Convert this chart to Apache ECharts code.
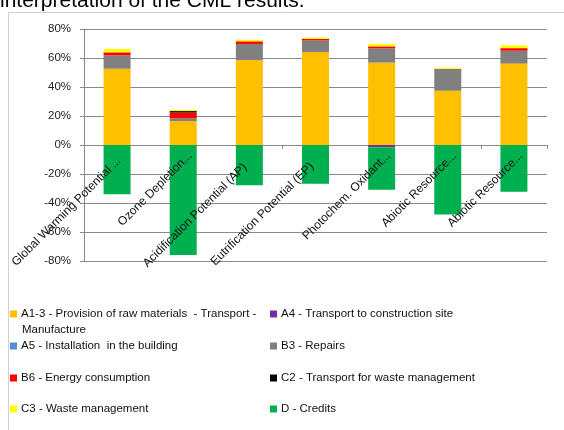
<!DOCTYPE html>
<html>
<head>
<meta charset="utf-8">
<script src="https://cdn.jsdelivr.net/npm/echarts@6/dist/echarts.min.js"></script>
<style>html,body{margin:0;padding:0;background:#fff;}#c{width:564px;height:430px;}</style>
</head>
<body>
<div id="c"></div>
<script>
const categories = ["Global Warming Potential ...","Ozone Depletion...","Acidification Potential (AP)","Eutrification Potential (EP)","Photochem. Oxidant...","Abiotic Resource...","Abiotic Resource..."];
const seriesNames = [
  "A1-3 - Provision of raw materials  - Transport - Manufacture",
  "A4 - Transport to construction site",
  "A5 - Installation  in the building",
  "B3 - Repairs",
  "B6 - Energy consumption",
  "C2 - Transport for waste management",
  "C3 - Waste management",
  "D - Credits"
];
const a13 = [52.6, 16.5, 58.6, 64.1, 56.8, 37.4, 56.3];
const a4  = [0, 0, 0.5, 0.5, -1.5, 0, 0.2];
const a5  = [0, 0, 0, 0, 0, 0, 0];
const b3  = [9.2, 2.0, 10.6, 7.5, 9.8, 15.2, 8.5];
const b6  = [2.1, 3.9, 1.8, 1.0, 1.4, 0, 1.8];
const c2  = [0, 1.0, 0, 0, 0, 0, 0];
const c3  = [2.3, 0.9, 1.1, 0.9, 1.7, 0.7, 1.9];
const d   = [-34.0, -75.9, -27.8, -26.7, -29.3, -47.9, -32.2];
const yTicks = { min: -80, max: 80, interval: 20 };

const values = [a13, a4, a5, b3, b6, c2, c3, d];
const colors = ["#FFC000", "#7030A0", "#558ED5", "#808080", "#FF0000", "#000000", "#FFFF00", "#00B050"];
const labelShift = [7, 0, 16, 15, 0, 0, 0];
const legendPos = [
  [10, 308], [270, 308],
  [10, 340], [270, 340],
  [10, 372], [270, 372],
  [10, 403], [270, 403]
];
const font = "'Liberation Sans', Arial, sans-serif";

const chart = echarts.init(document.getElementById('c'), null, { renderer: 'canvas' });
const option = {
  animation: false,
  backgroundColor: '#fff',
  grid: [
    { left: 84, right: 17, top: 29, bottom: 169, containLabel: false },
    { left: 91, right: 10, top: 29, height: 119, containLabel: false }
  ],
  xAxis: [
    {
      type: 'category', gridIndex: 0, data: categories,
      axisLine: { show: false, onZero: true },
      axisTick: { show: true, length: 4, lineStyle: { color: '#888' } },
      axisLabel: { show: false }
    },
    {
      type: 'category', gridIndex: 1, position: 'bottom', z: 5,
      data: categories.map((c, i) => ({ value: c, textStyle: { padding: [0, labelShift[i], 0, 0] } })),
      axisLine: { show: false },
      axisTick: { show: false },
      axisLabel: { rotate: 45, fontSize: 12, fontFamily: font, color: '#111', margin: 6, interval: 0 }
    }
  ],
  yAxis: [
    {
      type: 'value', gridIndex: 0,
      min: yTicks.min, max: yTicks.max, interval: yTicks.interval,
      axisLine: { show: true, lineStyle: { color: '#888' } },
      axisTick: { show: true, length: 4, lineStyle: { color: '#888' } },
      splitLine: { show: true, lineStyle: { color: '#8a8a8a', width: 1 } },
      axisLabel: { formatter: '{value}%', fontSize: 11.5, fontFamily: font, color: '#222', margin: 13 }
    },
    { type: 'value', gridIndex: 1, min: 0, max: 80, show: false }
  ],
  legend: seriesNames.map((n, i) => ({
    data: [n],
    left: legendPos[i][0],
    top: legendPos[i][1],
    orient: 'horizontal',
    itemWidth: 7, itemHeight: 7, itemGap: 0,
    padding: 0,
    icon: 'rect',
    selectedMode: false,
    formatter: i === 0 ? 'A1-3 - Provision of raw materials  - Transport -' : '{name}',
    textStyle: { fontSize: 11.5, fontFamily: font, color: '#111', padding: [0, 0, 0, -1] }
  })),
  graphic: [
    { type: 'rect', shape: { x: 8.5, y: 12.5, width: 600, height: 500 }, style: { fill: 'none', stroke: '#d0d0d0', lineWidth: 1 }, z: -1 },
    { type: 'rect', shape: { x: 0, y: 0, width: 340, height: 12 }, style: { fill: '#fff' }, z: 0 },
    { type: 'text', left: 0, top: -9, style: { text: 'interpretation of the CML results.', fontSize: 21, fontFamily: font, fill: '#000' }, z: 1 },
    { type: 'text', left: 22, top: 324, style: { text: 'Manufacture', fontSize: 11.5, fontFamily: font, fill: '#111' } }
  ],
  series: seriesNames.map((n, i) => ({
    name: n,
    type: 'bar',
    stack: 'total',
    barWidth: 27,
    xAxisIndex: 0, yAxisIndex: 0,
    itemStyle: { color: colors[i] },
    data: values[i]
  }))
};
chart.setOption(option);
</script>
</body>
</html>
